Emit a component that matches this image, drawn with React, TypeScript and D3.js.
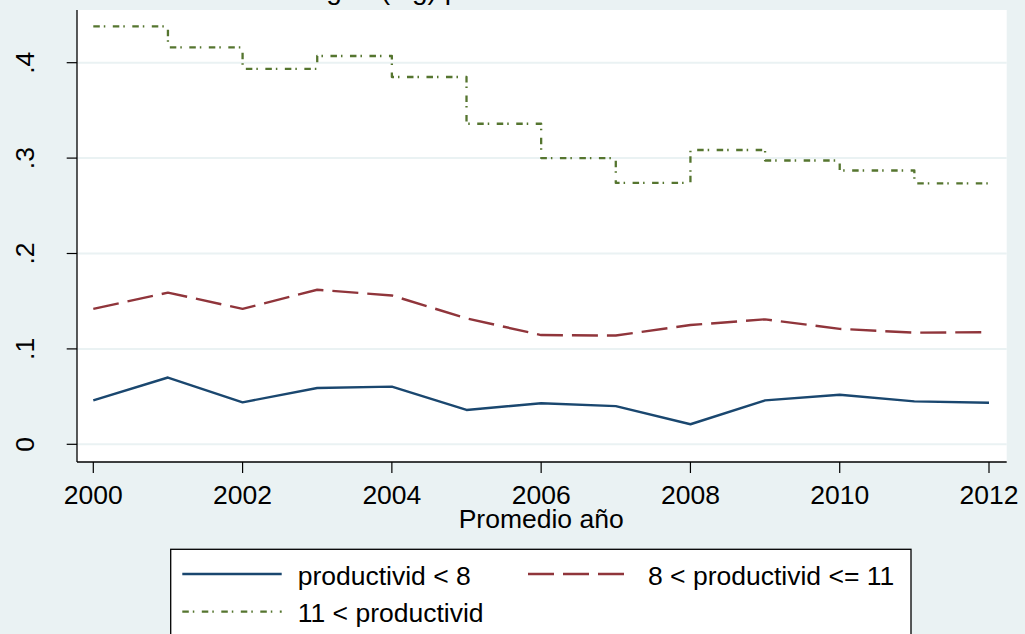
import * as React from 'react';
import * as d3 from 'd3';

const years = [2000, 2001, 2002, 2003, 2004, 2005, 2006, 2007, 2008, 2009, 2010, 2011, 2012];
const lowProd = [0.046, 0.070, 0.044, 0.059, 0.0605, 0.036, 0.043, 0.040, 0.021, 0.046, 0.052, 0.045, 0.0435];
const midProd = [0.142, 0.159, 0.142, 0.162, 0.156, 0.132, 0.1145, 0.114, 0.125, 0.131, 0.121, 0.117, 0.1175];
const highProd = [0.438, 0.416, 0.3935, 0.407, 0.385, 0.336, 0.300, 0.274, 0.3085, 0.2975, 0.287, 0.2735, 0.280];
const yTicks = [0, 0.1, 0.2, 0.3, 0.4];
const yTickLabels = ['0', '.1', '.2', '.3', '.4'];
const xTicks = [2000, 2002, 2004, 2006, 2008, 2010, 2012];
const seriesNames = ['productivid < 8', '8 < productivid <= 11', '11 < productivid'];

const W = 1025;
const H = 634;
const bg = '#eaf2f3';
const font = '"Liberation Sans", Arial, sans-serif';
const colors = ['#1a476f', '#90353b', '#55752f'];
const dashes = ['none', '26 9', '6.5 4 1.5 7.5'];

const plot = { left: 77, right: 1006.7, top: 10, bottom: 462 };

export default function App() {
  const x = d3.scaleLinear().domain([2000, 2012]).range([93.3, 989]);
  const y = d3.scaleLinear().domain([0, 0.4]).range([444.3, 62.7]);

  const line = d3.line<number>()
    .x((d, i) => x(years[i]))
    .y((d) => y(d));
  const step = d3.line<number>()
    .x((d, i) => x(years[i]))
    .y((d) => y(d))
    .curve(d3.curveStepAfter);

  const paths = [line(lowProd), line(midProd), step(highProd)];

  // legend layout
  const legend = { left: 170.7, top: 549.3, right: 911 };
  const legendItems = [
    { x: 182.3, y: 574, tx: 297.7, ty: 585 },
    { x: 528, y: 574, tx: 648, ty: 585 },
    { x: 182.3, y: 611.7, tx: 297.7, ty: 622.3 },
  ];

  return (
    <div style={{ position: 'fixed', left: 0, top: 0 }}>
      <svg width={W} height={H} style={{ display: 'block' }}>
        <rect x={0} y={0} width={W} height={H} fill={bg} />
        {/* title sits mostly above the page edge, only descenders show */}
        <text x={110} y={-1.5} fontFamily={font} fontSize={28} fill="#000">
          Tasa de salida según (log) productividad
        </text>
        <rect x={plot.left} y={plot.top} width={plot.right - plot.left} height={plot.bottom - plot.top} fill="#fff" />

        {yTicks.map((t) => (
          <line key={'g' + t} x1={plot.left} x2={plot.right} y1={y(t)} y2={y(t)} stroke={bg} strokeWidth={2} />
        ))}

        {paths.map((p, i) => (
          <path key={i} d={p || ''} fill="none" stroke={colors[i]} strokeWidth={i === 2 ? 2.3 : 2.4}
            strokeDasharray={dashes[i]} strokeLinejoin="round" />
        ))}

        <line x1={plot.left} x2={plot.left} y1={plot.top} y2={plot.bottom} stroke="#000" strokeWidth={1.3} />
        <line x1={plot.left} x2={plot.right} y1={plot.bottom} y2={plot.bottom} stroke="#000" strokeWidth={1.3} />

        {yTicks.map((t, i) => (
          <g key={'y' + t}>
            <line x1={66.7} x2={plot.left} y1={y(t)} y2={y(t)} stroke="#000" strokeWidth={1.2} />
            <text transform={`translate(33.5,${y(t)}) rotate(-90)`} textAnchor="middle"
              fontFamily={font} fontSize={26.5} fill="#000">{yTickLabels[i]}</text>
          </g>
        ))}

        {xTicks.map((t) => (
          <g key={'x' + t}>
            <line x1={x(t)} x2={x(t)} y1={plot.bottom} y2={473} stroke="#000" strokeWidth={1.2} />
            <text x={x(t)} y={503.5} textAnchor="middle" fontFamily={font} fontSize={26.5} fill="#000">{t}</text>
          </g>
        ))}
        <text x={(x(2000) + x(2012)) / 2} y={528} textAnchor="middle" fontFamily={font} fontSize={26.5} fill="#000">
          Promedio año
        </text>

        <rect x={legend.left} y={legend.top} width={legend.right - legend.left} height={120}
          fill="#fff" stroke="#000" strokeWidth={1.3} />
        {legendItems.map((it, i) => (
          <g key={'l' + i}>
            <line x1={it.x} x2={it.x + 99.4} y1={it.y} y2={it.y} stroke={colors[i]}
              strokeWidth={i === 2 ? 2.3 : 2.4} strokeDasharray={dashes[i]} />
            <text x={it.tx} y={it.ty} fontFamily={font} fontSize={26.5} fill="#000">{seriesNames[i]}</text>
          </g>
        ))}
      </svg>
    </div>
  );
}
